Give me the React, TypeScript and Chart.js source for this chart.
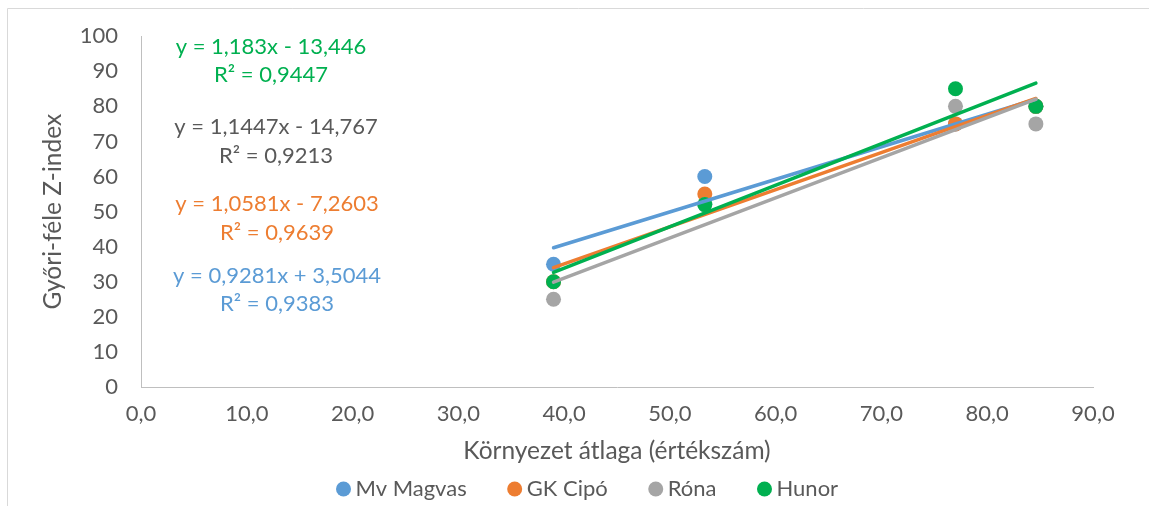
import React, { useEffect, useRef } from 'react';
import { Chart, registerables } from 'chart.js';

Chart.register(...registerables);

// ---- data ----
const seriesNames = ['Mv Magvas', 'GK Cipó', 'Róna', 'Hunor'];
const envAvg = [39.0, 53.3, 77.0, 84.6];
const mvMagvas = [35, 60, 75, 80];
const gkCipo = [30, 55, 75, 80];
const rona = [25, 52, 80, 75];
const hunor = [30, 52, 85, 80];
const slopes = [0.9281, 1.0581, 1.1447, 1.183];
const intercepts = [3.5044, -7.2603, -14.767, -13.446];
const eqTexts = ['y = 0,9281x + 3,5044', 'y = 1,0581x - 7,2603', 'y = 1,1447x - 14,767', 'y = 1,183x - 13,446'];
const r2Texts = ['R² = 0,9383', 'R² = 0,9639', 'R² = 0,9213', 'R² = 0,9447'];
const xTickLabels = ['0,0', '10,0', '20,0', '30,0', '40,0', '50,0', '60,0', '70,0', '80,0', '90,0'];
const xTitle = 'Környezet átlaga (értékszám)';
const yTitle = 'Győri-féle Z-index';

const seriesValues = [mvMagvas, gkCipo, rona, hunor];
const colors = ['#5B9BD5', '#ED7D31', '#A5A5A5', '#00B050'];
const labelColors = ['#5B9BD5', '#ED7D31', '#595959', '#00B050'];
const FONT = 'Lato, "DejaVu Sans", sans-serif';
const TEXT = '#595959';

// label placement (pixel centers) for the equation boxes
const eqPos = [
  { x: 277, y1: 276, y2: 304 },
  { x: 277, y1: 204, y2: 233 },
  { x: 276, y1: 127, y2: 156 },
  { x: 271, y1: 47, y2: 75 },
];

const decorPlugin = {
  id: 'decor',
  beforeDraw(chart: any) {
    const ctx = chart.ctx;
    ctx.save();
    ctx.strokeStyle = '#D9D9D9';
    ctx.lineWidth = 1;
    ctx.beginPath();
    ctx.moveTo(7.5, 506);
    ctx.lineTo(7.5, 8.5);
    ctx.lineTo(1149, 8.5);
    ctx.stroke();
    ctx.restore();
  },
  afterDraw(chart: any) {
    const ctx = chart.ctx;
    ctx.save();
    ctx.font = `22px ${FONT}`;
    ctx.textAlign = 'center';
    ctx.textBaseline = 'middle';
    for (let i = 0; i < eqTexts.length; i++) {
      ctx.fillStyle = labelColors[i];
      ctx.fillText(eqTexts[i], eqPos[i].x, eqPos[i].y1);
      ctx.fillText(r2Texts[i], eqPos[i].x, eqPos[i].y2);
    }
    // legend
    ctx.textAlign = 'left';
    ctx.font = `22px ${FONT}`;
    const r = 7.5;
    const gapText = 12;
    const gapNext = 48;
    const widths = seriesNames.map((n) => ctx.measureText(n).width);
    const cy = 489;
    let cx = 343.5;
    for (let i = 0; i < seriesNames.length; i++) {
      ctx.fillStyle = colors[i];
      ctx.beginPath();
      ctx.arc(cx, cy, r, 0, Math.PI * 2);
      ctx.fill();
      ctx.fillStyle = TEXT;
      ctx.fillText(seriesNames[i], cx + gapText, cy);
      cx = cx + gapText + widths[i] + gapNext;
    }
    ctx.restore();
  },
};

export default function App() {
  const ref = useRef<HTMLCanvasElement>(null);

  useEffect(() => {
    if (!ref.current) return;
    const minX = Math.min(...envAvg);
    const maxX = Math.max(...envAvg);

    const pointSets = seriesValues.map((vals, i) => ({
      type: 'scatter' as const,
      label: seriesNames[i],
      data: envAvg.map((x, j) => ({ x, y: vals[j] })),
      backgroundColor: colors[i],
      borderColor: colors[i],
      borderWidth: 0,
      pointRadius: 7.5,
      pointHoverRadius: 7.5,
      showLine: false,
      order: 7 - i,
    }));
    const trendSets = seriesValues.map((_, i) => ({
      type: 'scatter' as const,
      label: seriesNames[i] + ' trend',
      data: [
        { x: minX, y: slopes[i] * minX + intercepts[i] },
        { x: maxX, y: slopes[i] * maxX + intercepts[i] },
      ],
      borderColor: colors[i],
      backgroundColor: colors[i],
      borderWidth: 3.5,
      borderCapStyle: 'round' as const,
      pointRadius: 0,
      showLine: true,
      order: 3 - i,
    }));

    const chart = new Chart(ref.current, {
      type: 'scatter',
      data: { datasets: [...pointSets, ...trendSets] as any },
      options: {
        animation: false,
        responsive: false,
        layout: { padding: { left: 0, right: 56, top: 34, bottom: 0 } },
        plugins: { legend: { display: false }, tooltip: { enabled: false } },
        scales: {
          x: {
            type: 'linear',
            min: 0,
            max: 90,
            ticks: {
              stepSize: 10,
              callback: (v: any) => xTickLabels[Math.round(Number(v) / 10)],
              font: { family: FONT, size: 22 },
              color: TEXT,
              padding: 14,
              maxRotation: 0,
              autoSkip: false,
            },
            grid: { display: false, drawTicks: false },
            border: { display: true, color: '#BFBFBF', width: 1 },
            title: {
              display: true,
              text: xTitle,
              font: { family: FONT, size: 24.5 },
              color: TEXT,
              padding: { top: 0, bottom: 40 },
            },
            afterFit: (s: any) => {
              s.height = 119;
            },
          },
          y: {
            type: 'linear',
            min: 0,
            max: 100,
            ticks: {
              stepSize: 10,
              font: { family: FONT, size: 22 },
              color: TEXT,
              padding: 23,
            },
            grid: { display: false, drawTicks: false },
            border: { display: true, color: '#BFBFBF', width: 1 },
            title: {
              display: true,
              text: yTitle,
              font: { family: FONT, size: 24.5 },
              color: TEXT,
              padding: { top: 38, bottom: 0 },
            },
            afterFit: (s: any) => {
              s.width = 141;
            },
          },
        },
      },
      plugins: [decorPlugin],
    });
    return () => chart.destroy();
  }, []);

  return (
    <div style={{ position: 'fixed', left: 0, top: 0, width: 1149, height: 506, background: '#fff' }}>
      <canvas ref={ref} width={1149} height={506} style={{ display: 'block' }} />
    </div>
  );
}
